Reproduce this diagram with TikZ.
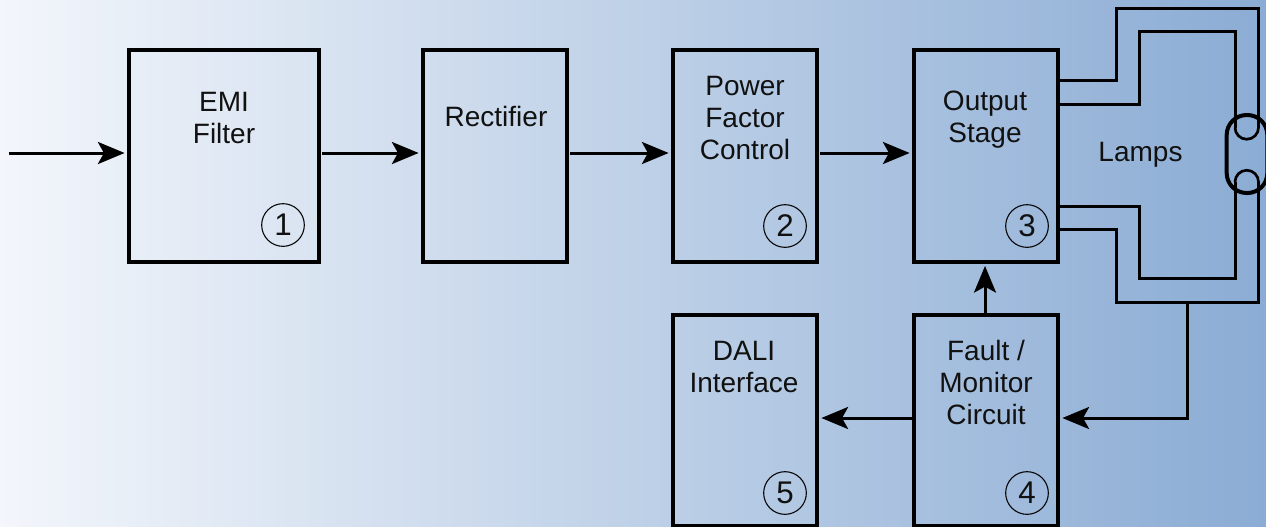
\documentclass[tikz,border=0pt]{standalone}
\usepackage{fontspec}
\setmainfont{Liberation Sans}
\usetikzlibrary{arrows.meta}
\definecolor{bgleft}{HTML}{F3F6FB}
\definecolor{bgright}{HTML}{8BACD4}
\definecolor{ink}{HTML}{000000}
\definecolor{txt}{HTML}{111111}
\tikzset{
  blk/.style={draw=ink,line width=3pt,rectangle,inner sep=0pt,minimum width=108pt,minimum height=158.6pt},
  lbl/.style={align=center,font=\fontsize{21pt}{24pt}\selectfont,text=txt,inner sep=0pt},
  num/.style={draw=ink,line width=0.8pt,circle,inner sep=0pt,minimum size=32pt,text=txt,font=\fontsize{23.5pt}{23.5pt}\selectfont},
  wire/.style={draw=ink,line width=2.25pt,line join=miter},
  flow/.style={draw=ink,line width=2.25pt,-{Stealth[length=20pt,width=16.5pt,inset=4.5pt]},shorten >=1.8pt,shorten <=0.8pt},
  touch/.style={shorten <=-1pt},
  lampbody/.style={draw=ink,line width=3pt,rectangle,rounded corners=15pt,inner sep=0pt,minimum width=30.5pt,minimum height=58.5pt},
  filament/.style={draw=ink,line width=2pt}
}
\begin{document}
\begin{tikzpicture}[x=0.75pt,y=-0.75pt]
\useasboundingbox (0,0) rectangle (1266,526);
\clip (0,0) rectangle (1266,526);
\shade[left color=bgleft,right color=bgright,shading angle=90] (0,0) rectangle (1266,526);
% blocks
\node[blk,minimum width=142.5pt] (emi) at (224,155.8) {};
\node[blk] (rect) at (495,155.8) {};
\node[blk] (pfc) at (745,155.8) {};
\node[blk] (out) at (986,155.8) {};
\node[blk,minimum height=158.25pt] (dali) at (745,420.5) {};
\node[blk,minimum height=158.25pt] (fault) at (986,420.5) {};
% labels
\node[lbl] (emit) at (224,117.5) {EMI\\Filter};
\node[lbl] (rectt) at (496,116) {Rectifier};
\node[lbl] (pfct) at (745,118) {Power\\Factor\\Control};
\node[lbl] (outt) at (985,119.5) {Output\\Stage};
\node[lbl] (lampt) at (1140.5,155) {Lamps};
\node[lbl] (dalit) at (744,367) {DALI\\Interface};
\node[lbl] (faultt) at (986,382) {Fault /\\Monitor\\Circuit};
% numbers
\node[num] (n1) at (283,225) {1};
\node[num] (n2) at (785,226) {2};
\node[num] (n3) at (1027,226) {3};
\node[num] (n4) at (1027,493) {4};
\node[num] (n5) at (785,493) {5};
% helpers
\coordinate (row) at (0,153);
\coordinate (src) at (7.5,153);
\coordinate (low) at (0,418);
\coordinate (tap) at (1187,302);
\coordinate (riser) at (985,0);
% main flow
\draw[flow] (src) -- (emi.west |- row);
\draw[flow] (emi.east |- row) -- (rect.west |- row);
\draw[flow] (rect.east |- row) -- (pfc.west |- row);
\draw[flow] (pfc.east |- row) -- (out.west |- row);
\draw[flow,touch] (fault.north -| riser) -- (out.south -| riser);
\draw[flow,touch] (fault.west |- low) -- (dali.east |- low);
\draw[flow,touch] (tap) |- (fault.east |- low);
% lamp
\node[lampbody] (lamp) at (1247,154) {};
\coordinate (oa) at (1058,80);
\coordinate (ob) at (1058,104);
\coordinate (oc) at (1058,206);
\coordinate (od) at (1058,229);
\coordinate (fa) at (1235,127.5);
\coordinate (fb) at (1258.5,127.5);
\coordinate (fc) at (1235,182);
\coordinate (fd) at (1258.5,182);
\draw[wire] (oa) -| (1116,8) -| (fb);
\draw[wire] (ob) -| (1139,31) -| (fa);
\draw[wire] (oc) -| (1139,278) -| (fc);
\draw[wire] (od) -| (1116,302) -| (fd);
\draw[filament] (fa) arc[start angle=180,end angle=360,radius=11.75,y radius=-11.75];
\draw[filament] (fc) arc[start angle=180,end angle=0,radius=11.75,y radius=-11.75];
\end{tikzpicture}
\end{document}
